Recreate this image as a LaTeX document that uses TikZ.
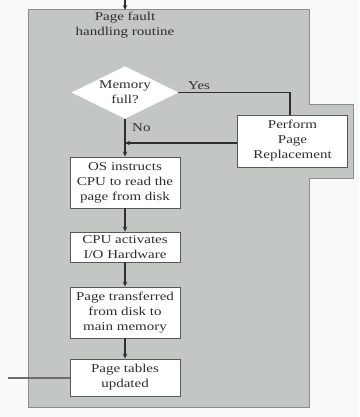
\documentclass[tikz,border=0pt]{standalone}
\usepackage{fontspec}
\setmainfont{Liberation Serif}[FakeStretch=1.25]
\usetikzlibrary{shapes.geometric,arrows.meta}
\definecolor{panelfill}{HTML}{C3C7C3}
\definecolor{panelline}{HTML}{8C8E8C}
\definecolor{ink}{HTML}{2E2E2E}
\definecolor{bg}{HTML}{F8FAF8}
\tikzset{
  procbox/.style={draw=ink!80, fill=white, line width=0.9pt, minimum width=110pt, inner sep=1pt, align=center, text=ink, font=\fontsize{12}{15}\selectfont},
  decide/.style={diamond, draw=white, fill=white, aspect=2, inner sep=0pt, minimum width=106pt, minimum height=52pt, align=center, text=ink, font=\fontsize{12}{15}\selectfont},
  flow/.style={draw=ink, line width=1.1pt, -{Stealth[length=5pt,width=4.5pt]}},
  plain/.style={draw=ink, line width=1.1pt},
  lbl/.style={text=ink, font=\fontsize{12}{15}\selectfont, inner sep=0pt}
}
\begin{document}
\begin{tikzpicture}[x=1pt,y=-1pt]
\fill[bg] (0,0) rectangle (359,417);
\useasboundingbox (0,0) rectangle (359,417);
\draw[panelline, fill=panelfill, line width=1pt]
  (28,10) -- (309,10) -- (309,105) -- (353,105) -- (353,178) -- (309,178) -- (309,407) -- (28,407) -- cycle;
\node[lbl, align=center] (title) at (125,25) {Page fault\\handling routine};
\node[decide] (mem) at (125,92.5) {Memory\\full?};
\node[procbox, minimum height=52pt] (perf) at (292.5,141) {Perform\\Page\\Replacement};
\node[procbox, minimum height=51pt] (os) at (125,182.5) {OS instructs\\CPU to read the\\page from disk};
\node[procbox, minimum height=30pt] (cpu) at (125,247) {CPU activates\\I/O Hardware};
\node[procbox, minimum height=51pt] (pt) at (125,312.5) {Page transferred\\from disk to\\main memory};
\node[procbox, minimum height=37pt] (tab) at (125,377.5) {Page tables\\updated};
\coordinate (top) at (125,0);
\coordinate (left) at (8,378);
\coordinate (join) at (125,143);
\draw[flow] (top) -- (125,10);
\draw[plain] (mem.east) -- (290,92.5) -- (290,115);
\node[lbl, anchor=south west] (yes) at (188,90) {Yes};
\draw[plain] (mem.south) -- (join);
\draw[flow] (join) -- (os.north);
\draw[flow] (perf.west |- join) -- (join);
\node[lbl, anchor=west] (no) at (132,128) {No};
\draw[flow] (os.south) -- (cpu.north);
\draw[flow] (cpu.south) -- (pt.north);
\draw[flow] (pt.south) -- (tab.north);
\draw[draw=ink!70, line width=1.3pt] (tab.west |- left) -- (left);
\end{tikzpicture}
\end{document}
